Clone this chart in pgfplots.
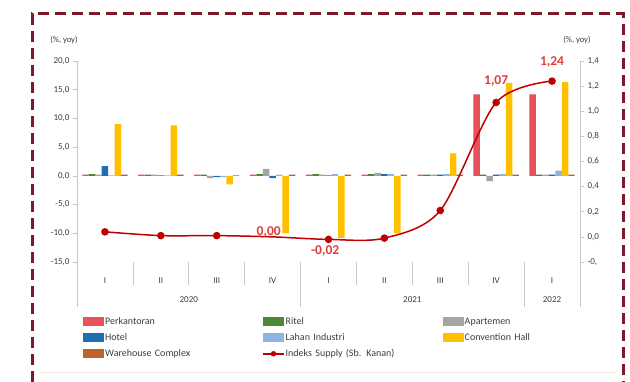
\documentclass[border=0pt]{standalone}
\usepackage{fontspec}
\setmainfont{Carlito}
\usepackage{pgfplots}
\pgfplotsset{compat=1.18}
\definecolor{perk}{RGB}{232,80,90}
\definecolor{ritel}{RGB}{76,136,56}
\definecolor{apart}{RGB}{165,165,165}
\definecolor{hotel}{RGB}{31,110,180}
\definecolor{lahan}{RGB}{142,180,227}
\definecolor{conv}{RGB}{255,192,0}
\definecolor{ware}{RGB}{190,100,40}
\definecolor{linecol}{RGB}{192,0,0}
\definecolor{labred}{RGB}{225,60,60}
\definecolor{bordercol}{RGB}{125,25,40}
\definecolor{tickgray}{RGB}{60,60,60}
\definecolor{axgray}{RGB}{200,200,200}
\pgfplotsset{
  barlegend/.style={legend image code/.code={\fill[##1] (0pt,-4.5pt) rectangle (21pt,4.5pt);}},
  linelegend/.style={legend image code/.code={\draw[linecol, line width=1.5pt] (0pt,0pt) -- (21pt,0pt); \fill[linecol] (10.5pt,0pt) circle (2.5pt);}},
}
\begin{document}
\begin{tikzpicture}[x=1pt,y=1pt]
\useasboundingbox (0,0) rectangle (630,382);
\draw[bordercol, line width=3pt, dash pattern=on 11pt off 6pt] (32,0) -- (32,368) -- (623,368) -- (623,0);
\draw[gray!20, line width=0.6pt] (40,10) -- (615,10);
\begin{axis}[
  at={(77pt,120pt)}, anchor=south west, scale only axis,
  width=503pt, height=201pt,
  xmin=-0.5, xmax=8.5, ymin=-15, ymax=20,
  clip=false,
  axis lines*=left,
  x axis line style={draw=none}, y axis line style={draw=none},
  xtick={0,...,8}, xticklabels={I,II,III,IV,I,II,III,IV,I},
  xtick style={draw=none},
  xticklabel style={anchor=center, yshift=-15pt, font=\fontsize{9}{10}\selectfont, text=tickgray},
  ytick={-15,-10,-5,0,5,10,15,20},
  yticklabels={{-15,0},{-10,0},{-5,0},{0,0},{5,0},{10,0},{15,0},{20,0}},
  yticklabel style={font=\fontsize{9}{10}\selectfont, text=tickgray},
  tick align=outside, major tick length=4pt,
  ytick style={draw=axgray, line width=0.6pt},
  ybar, bar width=0.116,
  barlegend,
  legend columns=3,
  legend style={draw=none, fill=none, at={(axis description cs:0.012,-0.274)}, anchor=north west,
    inner sep=0pt, row sep=7pt,
    nodes={font=\fontsize{10}{11}\selectfont, text=tickgray, text width=156pt, align=left, inner xsep=1pt, inner ysep=0pt, text height=7pt, text depth=2pt},
    /tikz/every odd column/.style={column sep=0pt},
    /tikz/every even column/.style={column sep=0pt}},
]
\addplot[fill=perk, draw=none, bar shift=-0.348] coordinates {(0,0.2)(1,0.2)(2,0.2)(3,0.2)(4,0.2)(5,0.2)(6,0.2)(7,14.2)(8,14.2)};
\addplot[fill=ritel, draw=none, bar shift=-0.232] coordinates {(0,0.3)(1,0.2)(2,0.2)(3,0.3)(4,0.3)(5,0.3)(6,0.2)(7,0.2)(8,0.2)};
\addplot[fill=apart, draw=none, bar shift=-0.116] coordinates {(0,0.2)(1,0.2)(2,-0.4)(3,1.2)(4,0.2)(5,0.5)(6,0.2)(7,-0.9)(8,0.2)};
\addplot[fill=hotel, draw=none, bar shift=0] coordinates {(0,1.7)(1,0.1)(2,-0.2)(3,-0.4)(4,0.1)(5,0.3)(6,0.2)(7,0.2)(8,0.2)};
\addplot[fill=lahan, draw=none, bar shift=0.116] coordinates {(0,0.1)(1,0.1)(2,-0.2)(3,0.2)(4,0.3)(5,0.3)(6,0.3)(7,0.3)(8,0.9)};
\addplot[fill=conv, draw=none, bar shift=0.232] coordinates {(0,9.0)(1,8.8)(2,-1.5)(3,-10.0)(4,-10.8)(5,-10.0)(6,3.9)(7,16.2)(8,16.3)};
\addplot[fill=ware, draw=none, bar shift=0.348] coordinates {(0,0.2)(1,0.2)(2,0.1)(3,0.2)(4,0.2)(5,0.2)(6,0.2)(7,0.2)(8,0.2)};
\addlegendimage{linelegend}
\legend{Perkantoran, Ritel, Apartemen, Hotel, Lahan Industri, Convention Hall, Warehouse Complex, Indeks Supply (Sb. Kanan)}
\draw[axgray, line width=0.6pt] (axis cs:-0.5,20) -- (axis cs:-0.5,-22.8);
\draw[axgray, line width=0.6pt] (axis cs:8.5,20) -- (axis cs:8.5,-22.8);
\draw[axgray, line width=0.6pt] (axis cs:0.5,-15) -- (axis cs:0.5,-19);
\draw[axgray, line width=0.6pt] (axis cs:1.5,-15) -- (axis cs:1.5,-19);
\draw[axgray, line width=0.6pt] (axis cs:2.5,-15) -- (axis cs:2.5,-19);
\draw[axgray, line width=0.6pt] (axis cs:4.5,-15) -- (axis cs:4.5,-19);
\draw[axgray, line width=0.6pt] (axis cs:5.5,-15) -- (axis cs:5.5,-19);
\draw[axgray, line width=0.6pt] (axis cs:6.5,-15) -- (axis cs:6.5,-19);
\draw[axgray, line width=0.6pt] (axis cs:3.5,-15) -- (axis cs:3.5,-22.8);
\draw[axgray, line width=0.6pt] (axis cs:7.5,-15) -- (axis cs:7.5,-22.8);
\node[font=\fontsize{9}{10}\selectfont, text=tickgray] at (axis cs:1.5,-21.6) {2020};
\node[font=\fontsize{9}{10}\selectfont, text=tickgray] at (axis cs:5.5,-21.6) {2021};
\node[font=\fontsize{9}{10}\selectfont, text=tickgray] at (axis cs:8,-21.6) {2022};
\end{axis}
\begin{axis}[
  at={(77pt,120pt)}, anchor=south west, scale only axis,
  width=503pt, height=201pt,
  xmin=-0.5, xmax=8.5, ymin=-0.2, ymax=1.4,
  clip=false,
  axis y line*=right, axis x line=none,
  y axis line style={draw=none},
  ytick={-0.2,0,0.2,0.4,0.6,0.8,1.0,1.2,1.4},
  yticklabels={{-0,},{0,0},{0,2},{0,4},{0,6},{0,8},{1,0},{1,2},{1,4}},
  yticklabel style={font=\fontsize{9}{10}\selectfont, text=tickgray},
  tick align=outside, major tick length=4pt,
  ytick style={draw=axgray, line width=0.6pt},
]
\addplot[linecol, line width=1.5pt, smooth, mark=*, mark size=3pt, mark options={fill=linecol, draw=linecol}, mark indices={1,2,3,5,6,7,8,9}]
  coordinates {(0,0.04)(1,0.01)(2,0.01)(3,0.00)(4,-0.02)(5,-0.01)(6,0.21)(7,1.07)(8,1.24)};
\node[text=labred, font=\bfseries\fontsize{13.5}{14}\selectfont] at (axis cs:2.93,0.04) {0,00};
\node[text=labred, font=\bfseries\fontsize{13.5}{14}\selectfont] at (axis cs:3.94,-0.11) {-0,02};
\node[text=labred, font=\bfseries\fontsize{13.5}{14}\selectfont] at (axis cs:7.0,1.24) {1,07};
\node[text=labred, font=\bfseries\fontsize{13.5}{14}\selectfont] at (axis cs:8.0,1.39) {1,24};
\end{axis}
\node[font=\fontsize{8.5}{9}\selectfont, text=tickgray] at (64,342) {(\%, yoy)};
\node[font=\fontsize{8.5}{9}\selectfont, text=tickgray] at (577,342) {(\%, yoy)};
\end{tikzpicture}
\end{document}
